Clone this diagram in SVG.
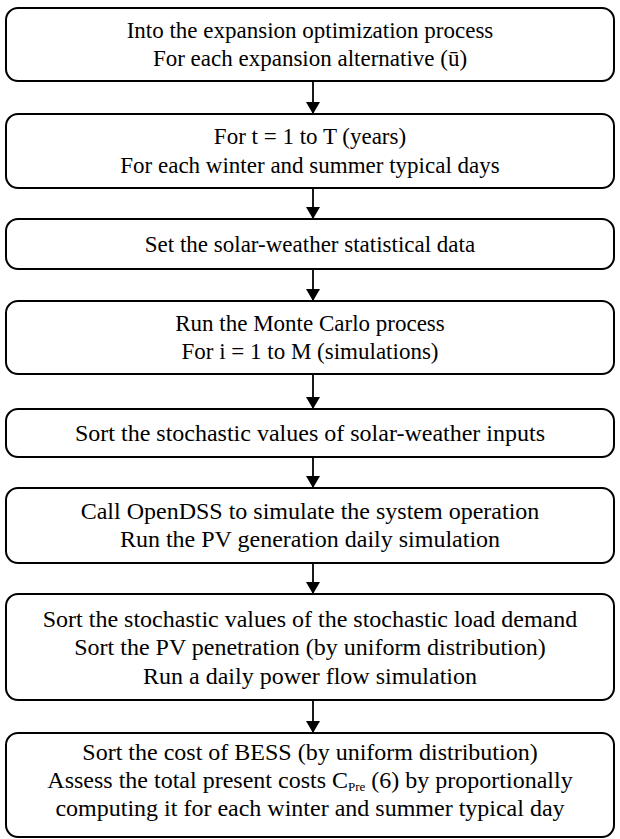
<svg xmlns="http://www.w3.org/2000/svg" width="620" height="839" viewBox="0 0 620 839">
<defs>
<style>
.box{fill:#fff;stroke:#000;stroke-width:2}
.t{font-family:'Liberation Serif','Times New Roman',serif;font-size:23px;fill:#000;text-anchor:middle}
.l{font-size:24px}
.c{stroke:#000;stroke-width:1.8;fill:none}
</style>
<marker id="ah" viewBox="0 0 12 14" refX="12" refY="7" markerWidth="12" markerHeight="14" markerUnits="userSpaceOnUse" orient="auto">
<path d="M0,0 L12,7 L0,14 Z" fill="#000"/>
</marker>
</defs>
<rect width="620" height="839" fill="#fff"/>
<g id="connectors">
<line class="c" x1="313" y1="81" x2="313" y2="114" marker-end="url(#ah)"/>
<line class="c" x1="313" y1="188" x2="313" y2="219" marker-end="url(#ah)"/>
<line class="c" x1="313" y1="269" x2="313" y2="301" marker-end="url(#ah)"/>
<line class="c" x1="313" y1="374" x2="313" y2="409" marker-end="url(#ah)"/>
<line class="c" x1="313" y1="457" x2="313" y2="488" marker-end="url(#ah)"/>
<line class="c" x1="313" y1="563" x2="313" y2="594" marker-end="url(#ah)"/>
<line class="c" x1="313" y1="700" x2="313" y2="733" marker-end="url(#ah)"/>
</g>
<g id="n1"><rect class="box" x="6" y="8" width="608" height="73" rx="12"/>
<text class="t" x="310" y="38">Into the expansion optimization process</text>
<text class="t" x="310" y="66">For each expansion alternative (ū)</text></g>
<g id="n2"><rect class="box" x="6" y="114" width="608" height="74" rx="12"/>
<text class="t" x="310" y="144">For t = 1 to T (years)</text>
<text class="t" x="310" y="173">For each winter and summer typical days</text></g>
<g id="n3"><rect class="box" x="6" y="219" width="608" height="50" rx="12"/>
<text class="t" x="310" y="252">Set the solar-weather statistical data</text></g>
<g id="n4"><rect class="box" x="6" y="301" width="608" height="73" rx="12"/>
<text class="t" x="310" y="331">Run the Monte Carlo process</text>
<text class="t" x="310" y="359">For i = 1 to M (simulations)</text></g>
<g id="n5"><rect class="box" x="6" y="409" width="608" height="48" rx="12"/>
<text class="t l" x="310" y="441">Sort the stochastic values of solar-weather inputs</text></g>
<g id="n6"><rect class="box" x="6" y="488" width="608" height="75" rx="12"/>
<text class="t l" x="310" y="519">Call OpenDSS to simulate the system operation</text>
<text class="t l" x="310" y="547">Run the PV generation daily simulation</text></g>
<g id="n7"><rect class="box" x="6" y="594" width="608" height="106" rx="12"/>
<text class="t l" x="310" y="627">Sort the stochastic values of the stochastic load demand</text>
<text class="t l" x="310" y="655">Sort the PV penetration (by uniform distribution)</text>
<text class="t l" x="310" y="684">Run a daily power flow simulation</text></g>
<g id="n8"><rect class="box" x="6" y="733" width="608" height="104" rx="12"/>
<text class="t l" x="310" y="760">Sort the cost of BESS (by uniform distribution)</text>
<text class="t l" x="310" y="788">Assess the total present costs C<tspan font-size="13" dy="3">Pre</tspan><tspan dy="-3"> (6) by proportionally</tspan></text>
<text class="t l" x="310" y="816">computing it for each winter and summer typical day</text></g>
</svg>
